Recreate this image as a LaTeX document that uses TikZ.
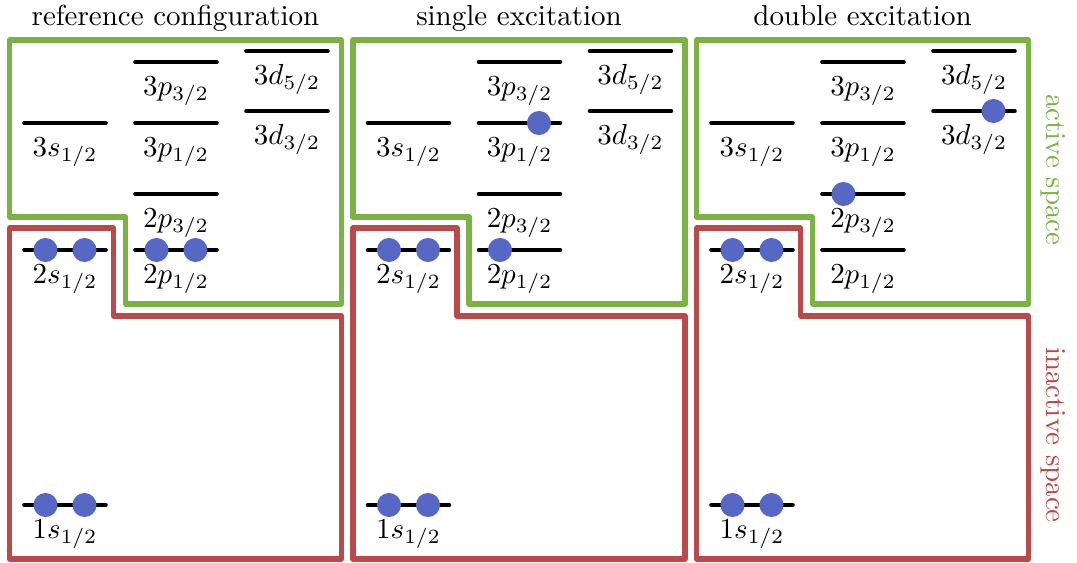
\documentclass[tikz,border=0pt]{standalone}
\usetikzlibrary{positioning}
\definecolor{actgreen}{RGB}{122,178,68}
\definecolor{inred}{RGB}{186,74,74}
\definecolor{eblue}{RGB}{86,104,196}
\tikzset{
  greenbox/.style={draw=actgreen, line width=1.75pt, line join=round},
  redbox/.style={draw=inred, line width=1.75pt, line join=round},
  level/.style={draw=black, line width=1.6pt, line cap=round},
  electron/.style={circle, fill=eblue, inner sep=0pt, minimum size=8.3pt},
  lvllabel/.style={anchor=base, inner sep=0pt},
  titletext/.style={anchor=base, inner sep=0pt},
}
\newcommand{\mklevel}[6]{% prefix, name, x0, x1, y, label
  \coordinate (#1#2a) at (#3,#5);
  \coordinate (#1#2b) at (#4,#5);
  \draw[level] (#1#2a) -- (#1#2b);
  \node[lvllabel] (#1#2l) at ($(#1#2a)!0.5!(#1#2b)+(0,33)$) {#6};
}
\newcommand{\mkpanel}[3]{% prefix, x0, title
  \begin{scope}[shift={(#2,0)}]
    \draw[greenbox] (0,40) -- (332,40) -- (332,304) -- (116,304) -- (116,217) -- (0,217) -- cycle;
    \draw[redbox] (0,228) -- (104,228) -- (104,316) -- (332,316) -- (332,559) -- (0,559) -- cycle;
    \node[titletext] (#1title) at (166,25) {#3};
    \mklevel{#1}{s3}{15}{96}{123}{$3s_{1/2}$}
    \mklevel{#1}{s2}{15}{96}{250}{$2s_{1/2}$}
    \mklevel{#1}{s1}{15}{96}{505}{$1s_{1/2}$}
    \mklevel{#1}{pc}{126}{207}{62}{$3p_{3/2}$}
    \mklevel{#1}{pb}{126}{207}{123}{$3p_{1/2}$}
    \mklevel{#1}{pa}{126}{207}{194}{$2p_{3/2}$}
    \mklevel{#1}{pz}{126}{207}{250}{$2p_{1/2}$}
    \mklevel{#1}{dd}{237}{318}{51}{$3d_{5/2}$}
    \mklevel{#1}{dc}{237}{318}{111}{$3d_{3/2}$}
  \end{scope}
}
\usetikzlibrary{calc}
\begin{document}
\begin{tikzpicture}[x=0.345pt, y=-0.345pt]
  \useasboundingbox (0,0) rectangle (1077,563);
  \mkpanel{A}{9.5}{reference configuration}
  \mkpanel{B}{353}{single excitation}
  \mkpanel{C}{696.5}{double excitation}
  % electrons: reference
  \foreach \p in {A,B,C}{
    \node[electron] (\p-s1e1) at ($(\p s1a)+(21,0)$) {};
    \node[electron] (\p-s1e2) at ($(\p s1b)+(-21,0)$) {};
    \node[electron] (\p-s2e1) at ($(\p s2a)+(21,0)$) {};
    \node[electron] (\p-s2e2) at ($(\p s2b)+(-21,0)$) {};
  }
  \node[electron] (A-pz1) at ($(Apza)+(21,0)$) {};
  \node[electron] (A-pz2) at ($(Apzb)+(-21,0)$) {};
  % single excitation
  \node[electron] (B-pz1) at ($(Bpza)+(21,0)$) {};
  \node[electron] (B-pb1) at ($(Bpbb)+(-21,0)$) {};
  % double excitation
  \node[electron] (C-pa1) at ($(Cpaa)+(21,0)$) {};
  \node[electron] (C-dc1) at ($(Cdcb)+(-21,0)$) {};
  % side labels
  \node[text=actgreen, rotate=-90] (active) at (1053,170) {active space};
  \node[text=inred, rotate=-90] (inactive) at (1053,435) {inactive space};
\end{tikzpicture}
\end{document}
